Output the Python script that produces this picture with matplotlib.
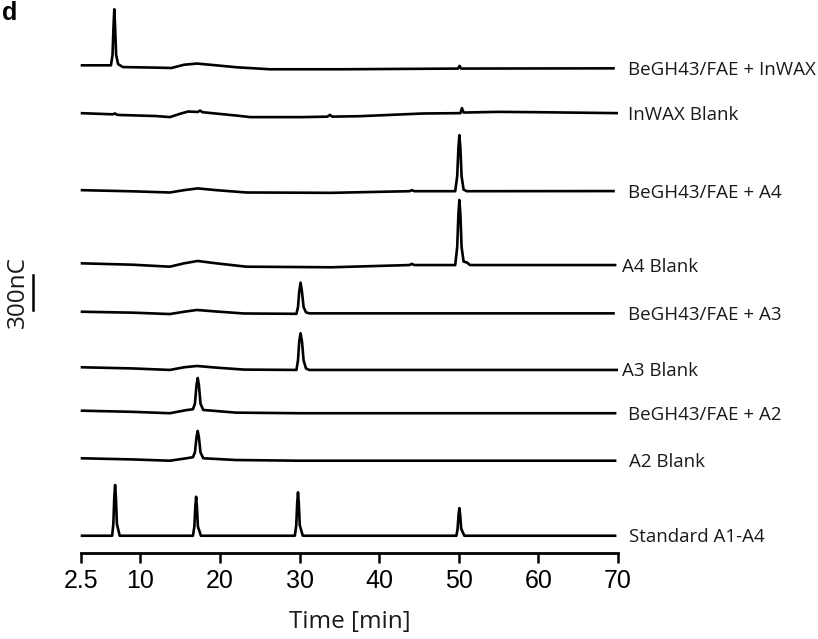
import matplotlib
matplotlib.use("Agg")
import matplotlib.pyplot as plt

# ---------------- data (time in min, signal in nC relative to trace start) -------------
labels = ["BeGH43/FAE + InWAX", "InWAX Blank", "BeGH43/FAE + A4", "A4 Blank",
          "BeGH43/FAE + A3", "A3 Blank", "BeGH43/FAE + A2", "A2 Blank", "Standard A1-A4"]

offsets = [4180, 3770, 3110, 2483, 2068, 1592, 1220, 812, 148]

t_inwax = [2.5, 6.3, 6.5, 6.62, 6.72, 6.82, 6.95, 7.2, 7.8, 12.0, 13.9, 15.5, 17.1, 19.5,
           22.1, 26.3, 35.1, 49.9, 50.1, 50.3, 69.6]
v_inwax = [0, 0, 90, 330, 480, 330, 90, 10, -15, -20, -23, 5, 15, 0,
           -17, -34, -34, -28, -5, -28, -26]

t_inwax_blank = [2.5, 6.5, 6.8, 7.1, 12.0, 13.7, 15.0, 16.0, 17.2, 17.5, 17.8, 22.1, 23.8,
                 30.4, 33.5, 33.8, 34.1, 37.6, 45.5, 50.2, 50.4, 50.6, 54.9, 60.0, 70.0]
v_inwax_blank = [0, -10, -3, -15, -25, -34, -5, 14, 10, 22, 8, -21, -34,
                 -34, -30, -15, -30, -26, -3, 0, 43, 5, 11, 8, 0]

t_a4 = [2.5, 9.0, 13.7, 15.5, 17.2, 19.5, 23.3, 34.0, 43.8, 44.1, 44.4, 49.55, 49.8, 49.95,
        50.07, 50.2, 50.35, 50.6, 51.0, 69.6]
v_a4 = [0, -10, -20, 0, 15, 0, -20, -23, -9, 0, -9, -9, 120, 360,
        471, 360, 120, 5, -9, -8]

t_a4_blank = [2.5, 9.0, 13.7, 15.5, 17.2, 19.5, 23.3, 34.0, 43.8, 44.1, 44.4, 49.55, 49.8,
              49.95, 50.07, 50.2, 50.35, 50.6, 50.75, 51.0, 51.4, 69.8]
v_a4_blank = [0, -12, -29, 0, 20, 0, -29, -34, -15, -5, -15, -15, 140,
              420, 543, 420, 140, 15, 11, 8, -15, -15]

t_a3 = [2.5, 9.0, 13.7, 15.5, 17.1, 19.5, 23.0, 29.6, 29.8, 29.95, 30.12, 30.3, 30.5, 30.8,
        31.2, 69.6]
v_a3 = [0, -8, -20, 0, 15, 2, -15, -18, 40, 170, 249, 170, 40, -5,
        -14, -14]

t_a3_blank = [2.5, 9.0, 13.7, 15.5, 17.1, 19.5, 23.0, 29.6, 29.8, 29.95, 30.12, 30.3, 30.5,
              30.8, 31.2, 70.0]
v_a3_blank = [0, -10, -23, 0, 11, -3, -20, -23, 60, 220, 291, 220, 60,
              -10, -23, -23]

t_a2 = [2.5, 9.0, 13.7, 15.8, 16.6, 16.85, 17.05, 17.2, 17.35, 17.55, 17.9, 22.0, 30.0, 45.0,
        69.8]
v_a2 = [0, -10, -22, 5, 12, 60, 220, 280, 220, 60, 6, -17, -22, -22,
        -22]

t_a2_blank = [2.5, 9.0, 13.7, 15.8, 16.6, 16.85, 17.05, 17.2, 17.35, 17.55, 17.9, 22.0, 30.0,
              45.0, 69.8]
v_a2_blank = [0, -10, -21, 0, 9, 50, 180, 234, 180, 50, 0, -15, -21,
              -21, -21]

t_std = [2.5, 6.45, 6.6, 6.72, 6.82, 6.92, 7.05, 7.4, 16.6, 16.78, 16.9, 17.0, 17.1, 17.22,
         17.6, 29.4, 29.58, 29.7, 29.8, 29.9, 30.02, 30.4, 49.7, 49.85, 49.97, 50.07, 50.17,
         50.3, 50.7, 69.8]
v_std = [0, 0, 100, 330, 435, 330, 100, 0, 0, 80, 250, 334, 250, 80,
         0, 0, 90, 280, 372, 280, 90, 0, 0, 60, 180, 237, 180,
         60, 0, 0]

times = [t_inwax, t_inwax_blank, t_a4, t_a4_blank, t_a3, t_a3_blank, t_a2, t_a2_blank, t_std]
signals = [v_inwax, v_inwax_blank, v_a4, v_a4_blank, v_a3, v_a3_blank, v_a2, v_a2_blank, v_std]

xticks = [2.5, 10, 20, 30, 40, 50, 60, 70]
xticklabels = ["2.5", "10", "20", "30", "40", "50", "60", "70"]
scale_nC = 300

# ---------------- layout ----------------
W, H = 818, 639
fig = plt.figure(figsize=(W / 100, H / 100), dpi=100)
ax = fig.add_axes([80.7 / W, 1 - 553 / H, (618 - 80.7) / W, 553 / H])
px = 8.571  # nC per pixel
ax.set_xlim(2.5, 70)
ax.set_ylim(0, 553 * px)

label_font = "Open Sans"
label_x = [71.26, 71.3, 71.26, 70.5, 71.26, 70.5, 71.3, 71.4, 71.4]

for t, v, off, lab, lx in zip(times, signals, offsets, labels, label_x):
    y = [off + s for s in v]
    ax.plot(t, y, color="black", lw=1.9, solid_joinstyle="round", solid_capstyle="butt",
            clip_on=False)
    ax.text(lx, y[-1] - 1.5 * px, lab, fontsize=13.5, family=label_font,
            va="center", ha="left", clip_on=False, color="#1a1a1a")

for s in ["left", "right", "top"]:
    ax.spines[s].set_visible(False)
ax.spines["bottom"].set_linewidth(2)
ax.set_yticks([])
ax.set_xticks(xticks)
ax.set_xticklabels(xticklabels, family="Liberation Sans", fontsize=18)
ax.tick_params(axis="x", direction="out", length=7.5, width=1.8, pad=4)
ax.set_xlabel("Time [min]", family=label_font, fontsize=17.5, labelpad=12, color="#1a1a1a")

# scale bar
bar_x = 2.5 + (33 - 80.7) / 7.96
bar_y0 = (553 - 310) * px
ax.plot([bar_x, bar_x], [bar_y0, bar_y0 + scale_nC], color="black", lw=1.8, clip_on=False)
ax.text(bar_x - 0.35, bar_y0 + scale_nC / 2, f"{scale_nC}nC", rotation=90, family=label_font,
        fontsize=17.5, ha="right", va="center", clip_on=False, color="#1a1a1a")

fig.text(0.002, 0.999, "d", fontsize=18, fontweight="bold", family="Liberation Sans",
         ha="left", va="top")

fig.savefig("out.png", dpi=100)
